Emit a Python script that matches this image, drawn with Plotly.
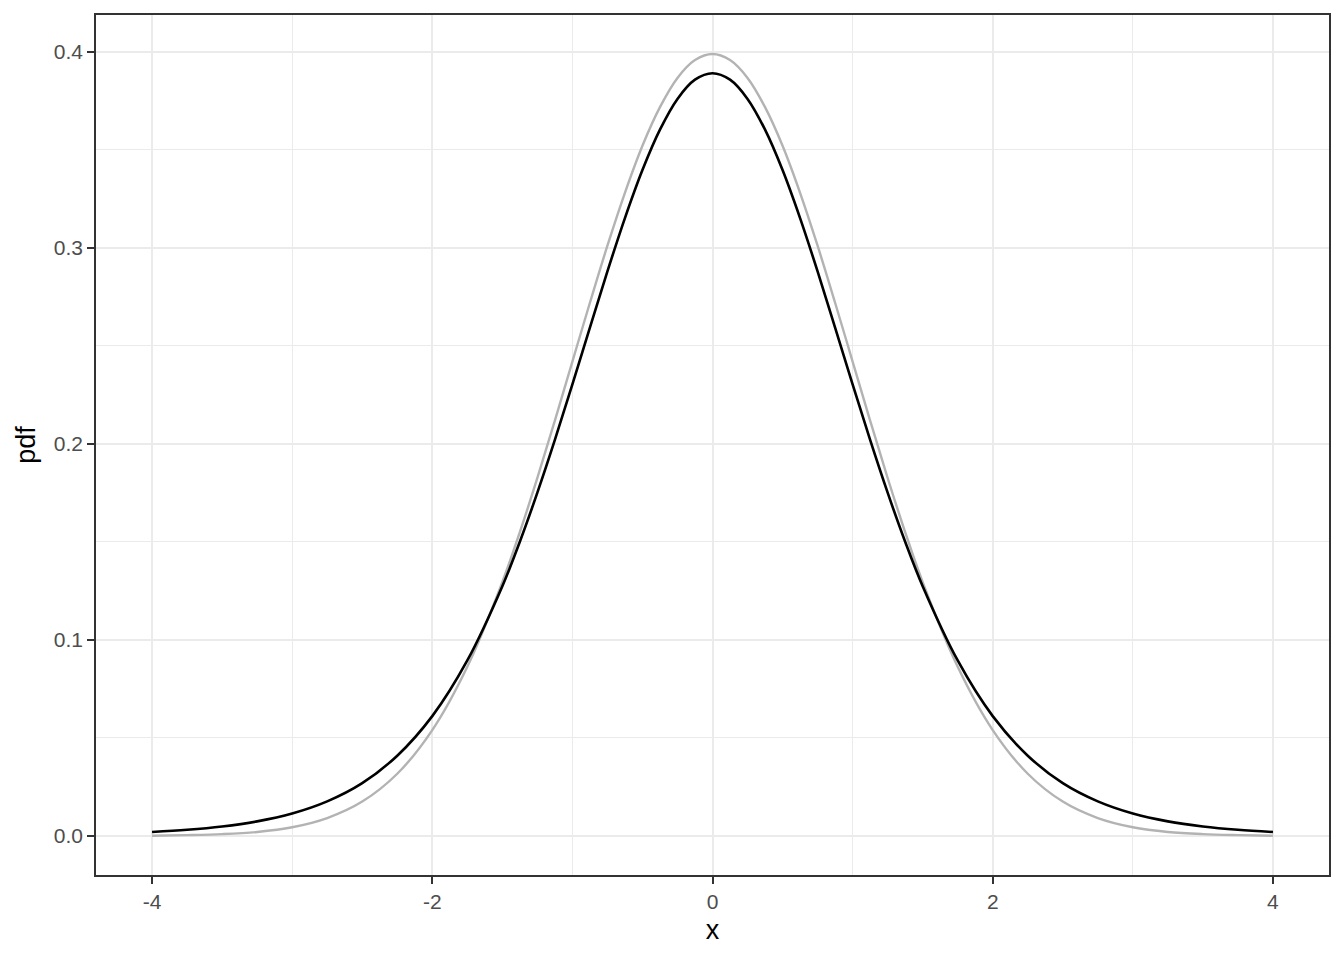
import plotly.graph_objects as go

x_half = [0.0, 0.125, 0.25, 0.375, 0.5, 0.625, 0.75, 0.875, 1.0, 1.125, 1.25, 1.375, 1.5,
          1.75, 2.0, 2.25, 2.5, 2.75, 3.0, 3.25, 3.5, 3.75, 4.0]
normal_half = [0.3989, 0.3958, 0.3867, 0.3718, 0.3521, 0.3281, 0.3011, 0.2720, 0.2420, 0.2119, 0.1826, 0.1550, 0.1295,
               0.0863, 0.0540, 0.0317, 0.0175, 0.0091, 0.0044, 0.0020, 0.0009, 0.0004, 0.0001]
t_half = [0.3891, 0.3858, 0.3760, 0.3603, 0.3397, 0.3152, 0.2880, 0.2593, 0.2304, 0.2020, 0.1751, 0.1501, 0.1274,
          0.0895, 0.0611, 0.0409, 0.0269, 0.0176, 0.0114, 0.0074, 0.0048, 0.0031, 0.0020]

x_vals = [-v for v in x_half[:0:-1]] + x_half
normal_pdf = normal_half[:0:-1] + normal_half
t_pdf = t_half[:0:-1] + t_half

x_ticks = [-4, -2, 0, 2, 4]
y_ticks = [0.0, 0.1, 0.2, 0.3, 0.4]
y_tick_text = ["0.0", "0.1", "0.2", "0.3", "0.4"]

FONT = "Liberation Sans, Arial, sans-serif"

fig = go.Figure()
fig.add_trace(go.Scatter(x=x_vals, y=normal_pdf, mode="lines",
                         line=dict(color="#b3b3b3", width=2.4, shape="spline", smoothing=1),
                         showlegend=False, hoverinfo="skip"))
fig.add_trace(go.Scatter(x=x_vals, y=t_pdf, mode="lines",
                         line=dict(color="black", width=2.6, shape="spline", smoothing=1),
                         showlegend=False, hoverinfo="skip"))

axis_common = dict(
    showline=True, linecolor="#333333", linewidth=1.7, mirror=True,
    ticks="outside", ticklen=7, tickwidth=2, tickcolor="#333333",
    tickfont=dict(family=FONT, size=21, color="#4d4d4d"),
    showgrid=True, gridcolor="#ebebeb", gridwidth=2, zeroline=False,
    automargin=False,
)

fig.update_layout(
    width=1344, height=960,
    margin=dict(l=96, r=15, t=15, b=85),
    plot_bgcolor="white", paper_bgcolor="white",
    font=dict(family=FONT, color="black"),
    xaxis=dict(range=[-4.4, 4.4], tickvals=x_ticks, ticktext=[str(v) for v in x_ticks],
               title=dict(text="x", font=dict(size=27, color="black"), standoff=8),
               minor=dict(tickvals=[-3, -1, 1, 3], showgrid=True, gridcolor="#ebebeb", gridwidth=1, ticks=""),
               **axis_common),
    yaxis=dict(range=[-0.01995, 0.4188], tickvals=y_ticks, ticktext=y_tick_text,
               title=dict(text="pdf", font=dict(size=27, color="black"), standoff=10),
               minor=dict(tickvals=[0.05, 0.15, 0.25, 0.35], showgrid=True, gridcolor="#ebebeb", gridwidth=1, ticks=""),
               **axis_common),
)

fig.write_html("out.html", config={"displayModeBar": False},
               post_script="document.body.style.margin='0';document.body.style.padding='0';")
